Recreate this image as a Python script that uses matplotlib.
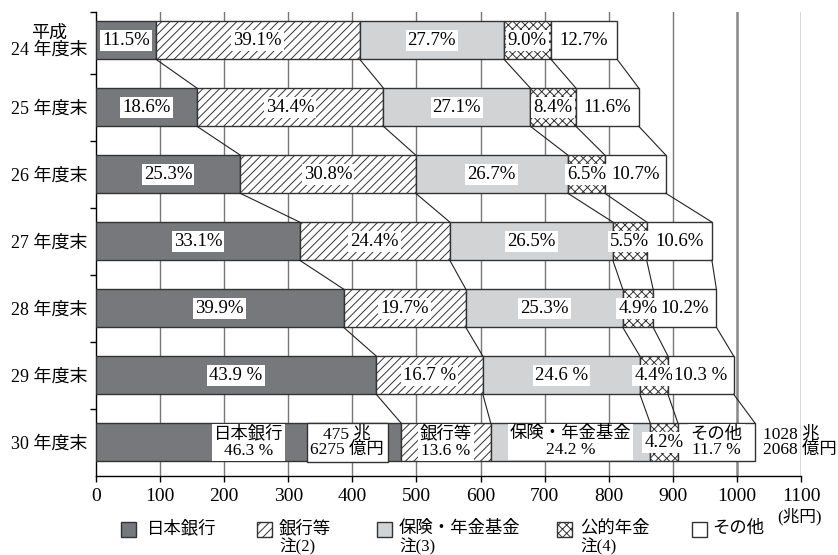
import matplotlib
matplotlib.use("Agg")
import matplotlib.pyplot as plt
from matplotlib.patches import Rectangle

plt.rcParams['font.family'] = ['Liberation Serif', 'Noto Sans CJK JP']
plt.rcParams['hatch.linewidth'] = 0.7

# data (兆円 totals, shares in %)
years = ['平成\n24 年度末', '25 年度末', '26 年度末', '27 年度末', '28 年度末', '29 年度末', '30 年度末']
totals = [813, 846, 889, 960, 968, 996, 1028.2068]
boj = [11.5, 18.6, 25.3, 33.1, 39.9, 43.9, 46.3]
banks = [39.1, 34.4, 30.8, 24.4, 19.7, 16.7, 13.6]
insurance = [27.7, 27.1, 26.7, 26.5, 25.3, 24.6, 24.2]
pension = [9.0, 8.4, 6.5, 5.5, 4.9, 4.4, 4.2]
others = [12.7, 11.6, 10.7, 10.6, 10.2, 10.3, 11.7]
names = ['日本銀行', '銀行等', '保険・年金基金', '公的年金', 'その他']
notes = ['', '注(2)', '注(3)', '注(4)', '']
last_names = ['日本銀行', '銀行等', '保険・年金基金', '', 'その他']
boj_amount = '475 兆\n6275 億円'
total_amount = '1028 兆\n2068 億円'

series = [boj, banks, insurance, pension, others]
fills = ['#77787b', 'white', '#d2d3d5', 'white', 'white']
hatches = [None, '////', None, 'xxxx', None]

W, H = 838, 555
fig = plt.figure(figsize=(W / 100, H / 100), dpi=100)
ax = fig.add_axes([96 / W, 1 - 475.7 / H, 705 / W, (475.7 - 12) / H])

bh = 0.57
n = len(years)
cums = []
for i in range(n):
    left = 0
    edges = [0]
    for s in range(5):
        w = totals[i] * series[s][i] / 100
        ax.barh(i, w, left=left, height=bh, color=fills[s], hatch=hatches[s],
                edgecolor='#333333', linewidth=1.0, zorder=3)
        cx = left + w / 2
        fs = 13.5
        if i == n - 1:
            if s == 3:
                txt = f'{series[s][i]:.1f}%'
            else:
                txt = f'{last_names[s]}\n{series[s][i]:.1f} %'
                fs = 12.5
        elif i == n - 2 and s != 3:
            txt = f'{series[s][i]:.1f} %'
        else:
            txt = f'{series[s][i]:.1f}%'
        ax.text(cx, i, txt, ha='center', va='center', fontsize=fs, zorder=5,
                linespacing=1.0,
                bbox=dict(facecolor='white', edgecolor='none', pad=1.5))
        left += w
        edges.append(left)
    cums.append(edges)

# connectors between bars
for i in range(n - 1):
    for k in range(1, 6):
        ax.plot([cums[i][k], cums[i + 1][k]], [i + bh / 2, i + 1 - bh / 2],
                color='#222222', lw=0.8, zorder=4)

# amount annotations on last bar
ax.text(392, n - 1, boj_amount, ha='center', va='center', fontsize=12.5, zorder=6,
        linespacing=1.0,
        bbox=dict(facecolor='white', edgecolor='#333333', linewidth=1.0, pad=2.5))
ax.text(1040, n - 1, total_amount, ha='left', va='center', fontsize=12.5,
        linespacing=1.0, clip_on=False)

# grid
for x in range(100, 1000, 100):
    ax.axvline(x, color='#777777', lw=1.0, zorder=1)
ax.axvline(1000, color='#888888', lw=1.8, zorder=1)
ax.axvline(1100, color='#333333', lw=1.0, zorder=1)

ax.set_xlim(0, 1100)
ax.set_ylim(n - 0.5, -0.42)
ax.set_xticks(range(0, 1101, 100))
ax.tick_params(axis='x', labelsize=14, length=4, width=1.0, pad=5)
ax.set_yticks(range(n))
ax.set_yticklabels(years, fontsize=13, linespacing=1.0)
ax.get_yticklabels()[0].set_multialignment('center')
ax.set_yticks([-0.42] + [k + 0.5 for k in range(n - 1)], minor=True)
ax.tick_params(axis='y', which='major', length=0, pad=6)
ax.tick_params(axis='y', which='minor', length=4, width=1.0)
for side in ['top', 'right']:
    ax.spines[side].set_visible(False)
ax.spines['left'].set_linewidth(1.0)
ax.spines['bottom'].set_linewidth(1.0)

# legend drawn by hand
hx = [121, 257, 377, 557, 692]
tx = [147, 279, 399, 580, 712]
for s in range(5):
    fig.add_artist(Rectangle((hx[s] / W, 1 - 537 / H), 15 / W, 15 / H,
                             transform=fig.transFigure, facecolor=fills[s],
                             hatch=hatches[s], edgecolor='#333333', lw=1.0))
    fig.text(tx[s] / W, 1 - 529 / H, names[s], fontsize=12.5, ha='left', va='center')
    if notes[s]:
        fig.text(tx[s] / W, 1 - 547 / H, notes[s], fontsize=12, ha='left', va='center')
fig.text(777 / W, 1 - 517 / H, '(兆円)', fontsize=12, ha='left', va='center')

fig.savefig('out.png', dpi=100)
